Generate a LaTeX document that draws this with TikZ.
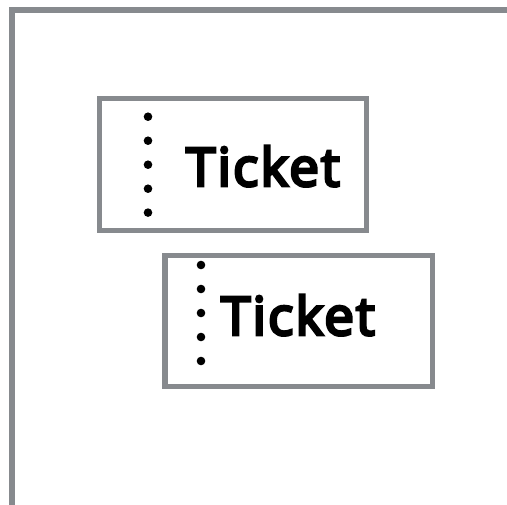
\documentclass[tikz,border=0pt]{standalone}
\usepackage{fontspec}
\newfontfamily\ticketfont{Open Sans}[FakeBold=5.5,LetterSpace=4]
\definecolor{framegray}{HTML}{878A8E}
\tikzset{
  ticketbox/.style={draw=framegray,line width=5.8pt,fill=white,inner sep=0pt,outer sep=0pt},
  perf/.style={circle,fill=black,draw=none,minimum size=8.6pt,inner sep=0pt},
  ticketlabel/.style={inner sep=0pt,font=\ticketfont\fontsize{53}{53}\selectfont,text=black,anchor=base}
}
\begin{document}
\begin{tikzpicture}[x=1pt,y=-1pt]
\useasboundingbox (0,0) rectangle (507,505);
\fill[white] (0,0) rectangle (507,505);
\coordinate (fa) at (12,505);
\coordinate (fb) at (12,10);
\coordinate (fc) at (507,10);
\draw[framegray,line width=6pt] (fa) -- (fb) -- (fc);
\node[ticketbox,minimum width=267pt,minimum height=132pt] (t1) at (233,164.5) {};
\node[ticketbox,minimum width=267.5pt,minimum height=131pt] (t2) at (298.75,321) {};
\foreach \i/\y in {1/116.7,2/140.7,3/164.7,4/188.7,5/212.6}
  \node[perf] (a\i) at (148,\y) {};
\foreach \i/\y in {1/265,2/289,3/313,4/337,5/361}
  \node[perf] (b\i) at (201,\y) {};
\node[ticketlabel] (l1) at (263,186) {Ticket};
\node[ticketlabel] (l2) at (298,335) {Ticket};
\end{tikzpicture}
\end{document}
